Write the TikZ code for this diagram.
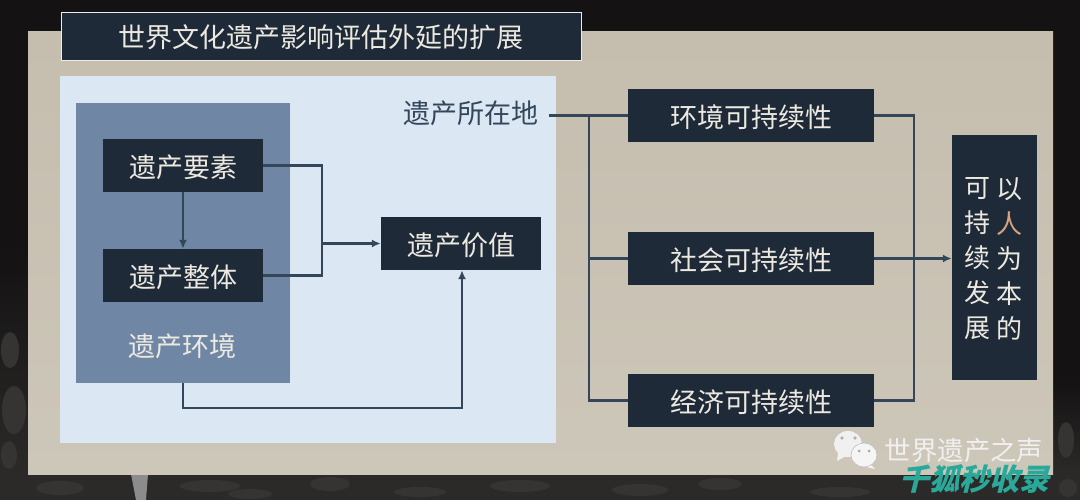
\documentclass[tikz,border=0pt]{standalone}
\usepackage{fontspec}
\setmainfont{Noto Sans CJK SC}
\usetikzlibrary{arrows.meta,positioning}
\definecolor{nightback}{HTML}{141213}
\definecolor{groundback}{HTML}{2B2A28}
\definecolor{groundspot}{HTML}{363432}
\definecolor{inkbox}{HTML}{1F2A38}
\definecolor{inkline}{HTML}{34465A}
\definecolor{paper}{HTML}{C5BDAE}
\definecolor{paperlow}{HTML}{CDC7B9}
\definecolor{lightpanel}{HTML}{DCE7F4}
\definecolor{bluepanel}{HTML}{6F87A5}
\definecolor{boxtext}{HTML}{ECE9E1}
\definecolor{warmtext}{HTML}{D9A27F}
\definecolor{marktext}{HTML}{2AA89A}
\tikzset{
  inkboxnode/.style={fill=inkbox, text=boxtext, inner sep=0pt, text height=27pt, text depth=3.4pt, font=\fontsize{27}{32}\selectfont},
  conn/.style={draw=inkline, line width=2.2pt},
  connarrow/.style={conn, -{Latex[length=9pt,width=8pt]}},
  columntext/.style={text=boxtext, align=center, inner sep=0pt, font=\fontsize{26}{35}\selectfont}
}
\begin{document}
\begin{tikzpicture}[x=1pt,y=-1pt]
  \useasboundingbox (0,0) rectangle (1080,500);
  % background
  \fill[nightback] (0,0) rectangle (1080,500);
  \shade[top color=nightback, bottom color=groundback] (0,250) rectangle (28,474);
  \shade[top color=nightback, bottom color=groundback] (1053,380) rectangle (1080,474);
  \fill[groundback] (0,474) rectangle (1080,500);
  \foreach \px/\py/\rx/\ry in {10/350/9/18, 14/410/12/24, 9/455/8/14, 60/488/24/7, 210/486/30/6, 250/494/22/5, 330/484/20/7,
                               420/492/26/5, 520/486/30/6, 640/490/28/6, 720/484/22/6, 840/492/30/5, 1066/440/8/18, 1068/488/9/9}
    \fill[groundspot] (\px,\py) ellipse ({\rx} and {\ry});
  \fill[black!45] (131,474) -- (148,474) -- (146,500) -- (136,500) -- cycle;
  % panels
  \shade[top color=paper, bottom color=paperlow] (28,32) rectangle (1053,474);
  \fill[lightpanel] (60,76) rectangle (556,443);
  \node[fill=bluepanel, minimum width=214pt, minimum height=280pt, inner sep=0pt] (envpanel) at (183,243) {};
  % title
  \node[inkboxnode, draw=boxtext!85, line width=0.8pt, minimum width=520pt, minimum height=48pt] (title) at (321,36) {世界文化遗产影响评估外延的扩展};
  % left part
  \node[inkboxnode, minimum width=160pt, minimum height=53pt] (elements) at (183,165.5) {遗产要素};
  \node[inkboxnode, minimum width=160pt, minimum height=53pt] (whole) at (183,275.5) {遗产整体};
  \node[text=boxtext, inner sep=0pt, font=\fontsize{27}{32}\selectfont] (setting) at (182,346) {遗产环境};
  \node[inkboxnode, minimum width=160pt, minimum height=53pt] (heritagevalue) at (461,243.5) {遗产价值};
  \node[text=inkline, inner sep=0pt, font=\fontsize{27}{32}\selectfont] (site) at (471,113) {遗产所在地};
  % right part
  \node[inkboxnode, minimum width=246pt, minimum height=53pt] (environ) at (751,115.5) {环境可持续性};
  \node[inkboxnode, minimum width=246pt, minimum height=53pt] (social) at (751,258.5) {社会可持续性};
  \node[inkboxnode, minimum width=246pt, minimum height=53pt] (economy) at (751,400.5) {经济可持续性};
  \node[fill=inkbox, minimum width=85pt, minimum height=245pt] (goal) at (994.5,257.5) {};
  \node[columntext] (colleft) at (977,259) {可\\持\\续\\发\\展};
  \node[columntext] (colright) at (1009,259) {以\\\textcolor{warmtext}{人}\\为\\本\\的};
  % connectors
  \coordinate (sitestart) at (549,115.5);
  \coordinate (joinvalue) at (322,243.5);
  \coordinate (sitejoin) at (589,115.5);
  \coordinate (goaljoin) at (914,258.5);
  \coordinate (bottomturn) at (462,408);
  \draw[connarrow] (elements) -- (whole);
  \draw[conn] (elements.east) -| (joinvalue) |- (whole.east);
  \draw[connarrow] (joinvalue) -- (heritagevalue.west);
  \draw[connarrow] (envpanel.south) |- (bottomturn) -- (bottomturn |- heritagevalue.south);
  \draw[conn] (sitestart) -- (environ.west);
  \draw[conn] (sitejoin) |- (economy.west);
  \draw[conn] (sitejoin |- social.west) -- (social.west);
  \draw[conn] (environ.east) -| (goaljoin) |- (economy.east);
  \draw[connarrow] (social.east) -- (goal.west |- social.east);
  % watermark
  \fill[white!94!black] (848,444) ellipse (14 and 13);
  \fill[white!94!black] (838,453) -- (837,461) -- (846,456) -- cycle;
  \fill[black!30] (842,438) circle (1.8) (855,438) circle (1.8);
  \fill[white!96!black] (870,464) -- (875,469) -- (862,466) -- cycle;
  \filldraw[fill=white!96!black, draw=black!25, line width=0.6pt] (864,455) ellipse (13 and 12);
  \fill[black!35] (859,451) circle (1.5) (869,451) circle (1.5);
  \node[text=white!94!black, inner sep=0pt, font=\fontsize{26.4}{30}\selectfont] (markname) at (964,450) {世界遗产之声};
  \node[text=marktext, inner sep=0pt, xslant=0.25, font=\fontsize{30}{34}\bfseries\selectfont] (marksite) at (977,479) {千狐秒收录};
\end{tikzpicture}
\end{document}
